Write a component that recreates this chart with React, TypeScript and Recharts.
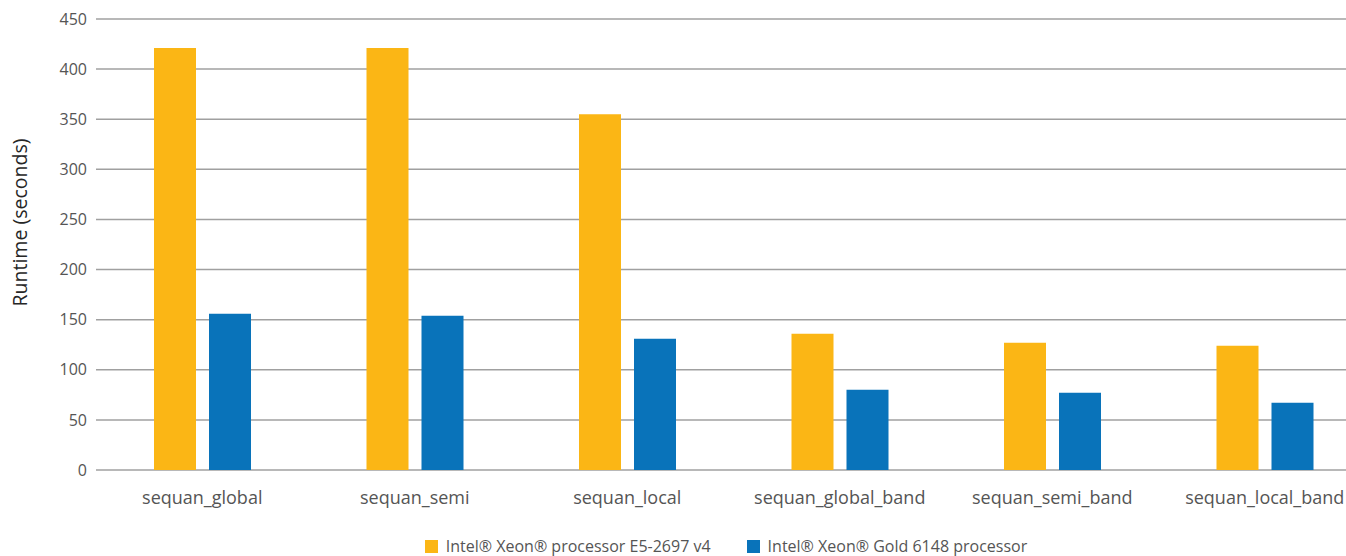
import React from 'react';
import { BarChart, Bar, CartesianGrid, XAxis, YAxis, Legend, Label } from 'recharts';

// Runtimes
const categories = [
  'sequan_global',
  'sequan_semi',
  'sequan_local',
  'sequan_global_band',
  'sequan_semi_band',
  'sequan_local_band',
];
const broadwellRuntimes = [421, 421, 355, 136, 127, 124];
const skylakeRuntimes = [156, 154, 131, 80, 77, 67];
const yTicks = [0, 50, 100, 150, 200, 250, 300, 350, 400, 450];

const broadwellName = 'Intel® Xeon® processor E5-2697 v4';
const skylakeName = 'Intel® Xeon® Gold 6148 processor';
const ORANGE = '#fbb615';
const BLUE = '#0973ba';

const data = categories.map((name, i) => ({
  name,
  broadwell: broadwellRuntimes[i],
  skylake: skylakeRuntimes[i],
}));

const legendItems = [
  { label: broadwellName, color: ORANGE },
  { label: skylakeName, color: BLUE },
];

const FONT = '"Open Sans", "DejaVu Sans", sans-serif';

// keep the legend in series order (recharts 3 sorts the payload by name)
const LegendContent = () => (
  <div
    style={{
      display: 'flex',
      justifyContent: 'center',
      alignItems: 'center',
      height: 20,
      lineHeight: '20px',
      paddingLeft: 81,
      fontFamily: FONT,
      fontSize: 16,
      color: '#555',
    }}
  >
    {legendItems.map((item, i) => (
      <div key={item.label} style={{ display: 'flex', alignItems: 'center', marginLeft: i > 0 ? 36 : 0 }}>
        <span style={{ width: 13, height: 13, background: item.color, marginRight: 8, display: 'inline-block' }} />
        <span>{item.label}</span>
      </div>
    ))}
  </div>
);

export default function App() {
  return (
    <div style={{ position: 'absolute', left: 0, top: 0, width: 1346, height: 556, overflow: 'hidden', background: '#fff' }}>
      <BarChart
        width={1380}
        height={556}
        data={data}
        margin={{ top: 19, right: 9, left: 0, bottom: 0 }}
        barSize={42}
        barGap={13}
      >
        <CartesianGrid vertical={false} stroke="#a0a0a0" strokeWidth={1.5} />
        <XAxis
          dataKey="name"
          height={66}
          axisLine={false}
          tickLine={false}
          tickMargin={15}
          tick={{ fill: '#555', fontSize: 18, fontFamily: FONT }}
          interval={0}
        />
        <YAxis
          width={96}
          domain={[0, 450]}
          ticks={yTicks}
          axisLine={false}
          tickLine={false}
          tickMargin={3}
          tick={{ fill: '#555', fontSize: 16, fontFamily: FONT }}
        >
          <Label
            value="Runtime (seconds)"
            angle={-90}
            position="center"
            dx={-28}
            dy={-22}
            style={{ fill: '#262626', fontSize: 19.5, fontFamily: FONT, textAnchor: 'middle' }}
          />
        </YAxis>
        <Legend verticalAlign="bottom" height={20} wrapperStyle={{ bottom: 0 }} content={<LegendContent />} />
        <Bar dataKey="broadwell" name={broadwellName} fill={ORANGE} isAnimationActive={false} />
        <Bar dataKey="skylake" name={skylakeName} fill={BLUE} isAnimationActive={false} />
      </BarChart>
    </div>
  );
}
